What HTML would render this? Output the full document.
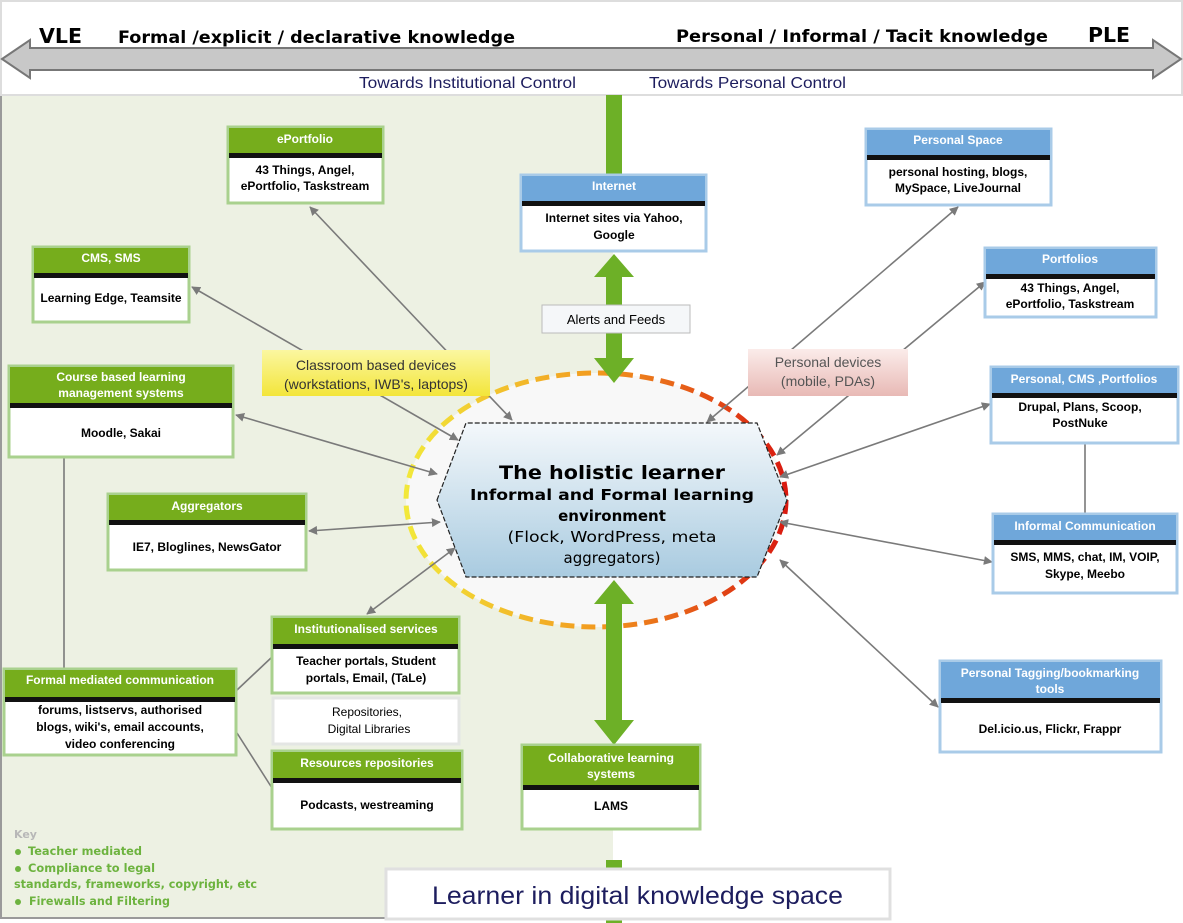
<!DOCTYPE html>
<html><head><meta charset="utf-8"><style>
html,body{margin:0;padding:0;background:#fff;}
svg{display:block;font-family:"Liberation Sans",Arial,sans-serif;}
.h{fill:#fff;font-weight:bold;font-size:12px;text-anchor:middle;}
.b{fill:#000;font-weight:bold;font-size:12px;text-anchor:middle;}
.ln{stroke:#7a7a7a;stroke-width:1.6;fill:none;}
.v{font-family:"DejaVu Sans","Liberation Sans",sans-serif;}
</style></head><body>
<svg width="1183" height="923" viewBox="0 0 1183 923" xmlns="http://www.w3.org/2000/svg">
<defs>
<marker id="ah" viewBox="0 0 10 10" refX="9" refY="5" markerWidth="9" markerHeight="9" orient="auto-start-reverse" markerUnits="userSpaceOnUse"><path d="M0,0 L10,5 L0,10 z" fill="#7a7a7a"/></marker>
<linearGradient id="hx" x1="0" y1="0" x2="0" y2="1"><stop offset="0" stop-color="#f4f8fb"/><stop offset="1" stop-color="#a9cbe0"/></linearGradient>
<linearGradient id="yl" x1="0" y1="0" x2="0" y2="1"><stop offset="0" stop-color="#fbf7a0"/><stop offset="1" stop-color="#f3e53a"/></linearGradient>
<linearGradient id="pk" x1="0" y1="0" x2="0" y2="1"><stop offset="0" stop-color="#fbecea"/><stop offset="1" stop-color="#e8b9b5"/></linearGradient>
<linearGradient id="el" x1="0" y1="0" x2="1" y2="0"><stop offset="0" stop-color="#f2e83a"/><stop offset="0.5" stop-color="#f29a1f"/><stop offset="1" stop-color="#d91a10"/></linearGradient>
</defs>
<rect x="0" y="95" width="613" height="823" fill="#edf1e3"/>
<path d="M1,95 V918 H613" stroke="#9a9a9a" stroke-width="2" fill="none"/>
<rect x="1" y="1" width="1181" height="94" fill="#fff" stroke="#ddd" stroke-width="2"/>
<path d="M2,59 L30,40 L30,48 L1153,48 L1153,40 L1181,59 L1153,78 L1153,70 L30,70 L30,78 Z" fill="#c8c8c8" stroke="#777" stroke-width="2"/>
<g class="v" font-weight="bold">
<text x="39" y="43" font-size="20" textLength="43" lengthAdjust="spacingAndGlyphs">VLE</text>
<text x="118" y="43" font-size="17" textLength="397" lengthAdjust="spacingAndGlyphs">Formal /explicit / declarative knowledge</text>
<text x="676" y="42" font-size="17" textLength="372" lengthAdjust="spacingAndGlyphs">Personal / Informal / Tacit knowledge</text>
<text x="1088" y="42" font-size="20" textLength="42" lengthAdjust="spacingAndGlyphs">PLE</text>
</g>
<text x="359" y="88" font-size="16" fill="#1d1d5e" textLength="217" lengthAdjust="spacingAndGlyphs">Towards Institutional Control</text>
<text x="649" y="88" font-size="16" fill="#1d1d5e" textLength="197" lengthAdjust="spacingAndGlyphs">Towards Personal Control</text>
<ellipse cx="596" cy="500" rx="190" ry="127" fill="#f8f8f8" stroke="url(#el)" stroke-width="5" stroke-dasharray="14,7"/>
<rect x="606" y="95" width="16" height="80" fill="#6db027"/>
<rect x="606" y="860" width="16" height="63" fill="#6db027"/>
<path d="M614,254 L634,277 L622,277 L622,358 L634,358 L614,383 L594,358 L606,358 L606,277 L594,277 Z" fill="#6db027"/>
<path d="M614,580 L634,604 L622,604 L622,720 L634,720 L614,745 L594,720 L606,720 L606,604 L594,604 Z" fill="#6db027"/>
<line class="ln" x1="512" y1="420" x2="310" y2="207" marker-start="url(#ah)" marker-end="url(#ah)"/>
<line class="ln" x1="458" y1="440" x2="192" y2="287" marker-start="url(#ah)" marker-end="url(#ah)"/>
<line class="ln" x1="437" y1="474" x2="236" y2="415" marker-start="url(#ah)" marker-end="url(#ah)"/>
<line class="ln" x1="440" y1="522" x2="309" y2="531" marker-start="url(#ah)" marker-end="url(#ah)"/>
<line class="ln" x1="455" y1="548" x2="367" y2="614" marker-start="url(#ah)" marker-end="url(#ah)"/>
<line class="ln" x1="707" y1="422" x2="958" y2="207" marker-start="url(#ah)" marker-end="url(#ah)"/>
<line class="ln" x1="777" y1="455" x2="985" y2="282" marker-start="url(#ah)" marker-end="url(#ah)"/>
<line class="ln" x1="780" y1="477" x2="990" y2="404" marker-start="url(#ah)" marker-end="url(#ah)"/>
<line class="ln" x1="780" y1="522" x2="992" y2="562" marker-start="url(#ah)" marker-end="url(#ah)"/>
<line class="ln" x1="780" y1="560" x2="938" y2="707" marker-start="url(#ah)" marker-end="url(#ah)"/>
<line class="ln" x1="64" y1="457" x2="64" y2="668"/>
<line class="ln" x1="1085" y1="444" x2="1085" y2="513"/>
<line class="ln" x1="237" y1="690" x2="272" y2="657"/>
<line class="ln" x1="237" y1="733" x2="272" y2="788"/>
<path d="M437,500 L466,423 L757,423 L787,500 L757,577 L466,577 Z" fill="url(#hx)" stroke="#222" stroke-width="1.2" stroke-dasharray="5,2"/>
<g class="v" text-anchor="middle">
<text x="612" y="479" font-size="19" font-weight="bold" textLength="226" lengthAdjust="spacingAndGlyphs">The holistic learner</text>
<text x="612" y="500" font-size="15" font-weight="bold" textLength="284" lengthAdjust="spacingAndGlyphs">Informal and Formal learning</text>
<text x="612" y="521" font-size="15" font-weight="bold">environment</text>
<text x="612" y="542" font-size="15" textLength="209" lengthAdjust="spacingAndGlyphs">(Flock, WordPress, meta</text>
<text x="612" y="563" font-size="15">aggregators)</text>
</g>
<rect x="262" y="350" width="228" height="46" fill="url(#yl)"/>
<text x="376" y="370" font-size="14" fill="#333" text-anchor="middle">Classroom based devices</text>
<text x="376" y="389" font-size="14" fill="#333" text-anchor="middle">(workstations, IWB's, laptops)</text>
<rect x="748" y="349" width="160" height="47" fill="url(#pk)"/>
<text x="828" y="367" font-size="14" fill="#555" text-anchor="middle">Personal devices</text>
<text x="828" y="386" font-size="14" fill="#555" text-anchor="middle">(mobile, PDAs)</text>
<rect x="542" y="305" width="148" height="28" fill="#f5f7f9" stroke="#bbb"/>
<text x="616" y="324" font-size="13" text-anchor="middle">Alerts and Feeds</text>

<g>
<rect x="228" y="127" width="155" height="76" fill="#fff" stroke="#a9d18e" stroke-width="3"/>
<rect x="229" y="128" width="153" height="25" fill="#76ad1c"/><rect x="229" y="153" width="153" height="5" fill="#111"/>
<text class="h" x="305" y="143">ePortfolio</text>
<text class="b" x="305" y="174">43 Things, Angel,</text><text class="b" x="305" y="190">ePortfolio, Taskstream</text>
<rect x="33" y="247" width="156" height="75" fill="#fff" stroke="#a9d18e" stroke-width="3"/>
<rect x="34" y="248" width="154" height="25" fill="#76ad1c"/><rect x="34" y="273" width="154" height="5" fill="#111"/>
<text class="h" x="111" y="262">CMS, SMS</text>
<text class="b" x="111" y="302">Learning Edge, Teamsite</text>
<rect x="9" y="366" width="224" height="91" fill="#fff" stroke="#a9d18e" stroke-width="3"/>
<rect x="10" y="367" width="222" height="36" fill="#76ad1c"/><rect x="10" y="403" width="222" height="5" fill="#111"/>
<text class="h" x="121" y="381">Course based learning</text><text class="h" x="121" y="397">management systems</text>
<text class="b" x="121" y="437">Moodle, Sakai</text>
<rect x="108" y="494" width="198" height="76" fill="#fff" stroke="#a9d18e" stroke-width="3"/>
<rect x="109" y="495" width="196" height="25" fill="#76ad1c"/><rect x="109" y="520" width="196" height="5" fill="#111"/>
<text class="h" x="207" y="510">Aggregators</text>
<text class="b" x="207" y="551">IE7, Bloglines, NewsGator</text>
<rect x="272" y="617" width="187" height="76" fill="#fff" stroke="#a9d18e" stroke-width="3"/>
<rect x="273" y="618" width="185" height="26" fill="#76ad1c"/><rect x="273" y="644" width="185" height="5" fill="#111"/>
<text class="h" x="366" y="633">Institutionalised services</text>
<text class="b" x="366" y="665">Teacher portals,  Student</text><text class="b" x="366" y="682">portals, Email, (TaLe)</text>
<rect x="273" y="698" width="186" height="46" fill="#fff" stroke="#e4e6e4" stroke-width="3"/>
<text x="367" y="716" font-size="12" text-anchor="middle">Repositories,</text><text x="369" y="733" font-size="12" text-anchor="middle">Digital Libraries</text>
<rect x="272" y="751" width="190" height="78" fill="#fff" stroke="#a9d18e" stroke-width="3"/>
<rect x="273" y="752" width="188" height="26" fill="#76ad1c"/><rect x="273" y="778" width="188" height="5" fill="#111"/>
<text class="h" x="367" y="767">Resources repositories</text>
<text class="b" x="367" y="809">Podcasts, westreaming</text>
<rect x="4" y="669" width="232" height="86" fill="#fff" stroke="#a9d18e" stroke-width="3"/>
<rect x="5" y="670" width="230" height="27" fill="#76ad1c"/><rect x="5" y="697" width="230" height="5" fill="#111"/>
<text class="h" x="120" y="684">Formal mediated communication</text>
<text class="b" x="120" y="714">forums, listservs, authorised</text><text class="b" x="120" y="731">blogs, wiki's, email accounts,</text><text class="b" x="120" y="748">video conferencing</text>
<rect x="522" y="745" width="178" height="84" fill="#fff" stroke="#a9d18e" stroke-width="3"/>
<rect x="523" y="746" width="176" height="39" fill="#76ad1c"/><rect x="523" y="785" width="176" height="5" fill="#111"/>
<text class="h" x="611" y="762">Collaborative learning</text><text class="h" x="611" y="778">systems</text>
<text class="b" x="611" y="810">LAMS</text>
</g>
<g>
<rect x="521" y="175" width="185" height="76" fill="#fff" stroke="#a9cbe8" stroke-width="3"/>
<rect x="522" y="176" width="183" height="25" fill="#6fa7da"/><rect x="522" y="201" width="183" height="5" fill="#111"/>
<text class="h" x="614" y="190">Internet</text>
<text class="b" x="614" y="222">Internet sites via Yahoo,</text><text class="b" x="614" y="239">Google</text>
<rect x="866" y="129" width="185" height="76" fill="#fff" stroke="#a9cbe8" stroke-width="3"/>
<rect x="867" y="130" width="183" height="25" fill="#6fa7da"/><rect x="867" y="155" width="183" height="5" fill="#111"/>
<text class="h" x="958" y="144">Personal Space</text>
<text class="b" x="958" y="176">personal hosting, blogs,</text><text class="b" x="958" y="192">MySpace, LiveJournal</text>
<rect x="985" y="248" width="171" height="69" fill="#fff" stroke="#a9cbe8" stroke-width="3"/>
<rect x="986" y="249" width="169" height="25" fill="#6fa7da"/><rect x="986" y="274" width="169" height="5" fill="#111"/>
<text class="h" x="1070" y="263">Portfolios</text>
<text class="b" x="1070" y="292">43 Things, Angel,</text><text class="b" x="1070" y="308">ePortfolio, Taskstream</text>
<rect x="991" y="367" width="187" height="76" fill="#fff" stroke="#a9cbe8" stroke-width="3"/>
<rect x="992" y="368" width="185" height="25" fill="#6fa7da"/><rect x="992" y="393" width="185" height="5" fill="#111"/>
<text class="h" x="1084" y="383">Personal, CMS ,Portfolios</text>
<text class="b" x="1080" y="411">Drupal, Plans, Scoop,</text><text class="b" x="1080" y="427">PostNuke</text>
<rect x="993" y="514" width="184" height="79" fill="#fff" stroke="#a9cbe8" stroke-width="3"/>
<rect x="994" y="515" width="182" height="25" fill="#6fa7da"/><rect x="994" y="540" width="182" height="5" fill="#111"/>
<text class="h" x="1085" y="530">Informal Communication</text>
<text class="b" x="1085" y="561">SMS, MMS, chat,  IM, VOIP,</text><text class="b" x="1085" y="578">Skype, Meebo</text>
<rect x="940" y="661" width="221" height="91" fill="#fff" stroke="#a9cbe8" stroke-width="3"/>
<rect x="941" y="662" width="219" height="36" fill="#6fa7da"/><rect x="941" y="698" width="219" height="5" fill="#111"/>
<text class="h" x="1050" y="677">Personal Tagging/bookmarking</text><text class="h" x="1050" y="693">tools</text>
<text class="b" x="1050" y="733">Del.icio.us, Flickr, Frappr</text>
</g>
<text x="14" y="838" font-size="11" font-weight="bold" fill="#b8b8b8" class="v">Key</text>
<g font-size="11.5" font-weight="bold" fill="#6db33f" class="v">
<circle cx="18" cy="852" r="3"/><text x="28" y="855" textLength="114" lengthAdjust="spacingAndGlyphs">Teacher mediated</text>
<circle cx="18" cy="869" r="3"/><text x="28" y="872" textLength="127" lengthAdjust="spacingAndGlyphs">Compliance to legal</text>
<text x="14" y="888" textLength="243" lengthAdjust="spacingAndGlyphs">standards, frameworks, copyright, etc</text>
<circle cx="18" cy="902" r="3"/><text x="29" y="905" textLength="141" lengthAdjust="spacingAndGlyphs">Firewalls and Filtering</text>
</g>
<rect x="386" y="869" width="504" height="50" fill="#fff" stroke="#e0e0e0" stroke-width="3"/>
<text x="432" y="904" font-size="25" fill="#1d1d5e" textLength="411" lengthAdjust="spacingAndGlyphs">Learner in digital knowledge space</text>
</svg>
</body></html>
